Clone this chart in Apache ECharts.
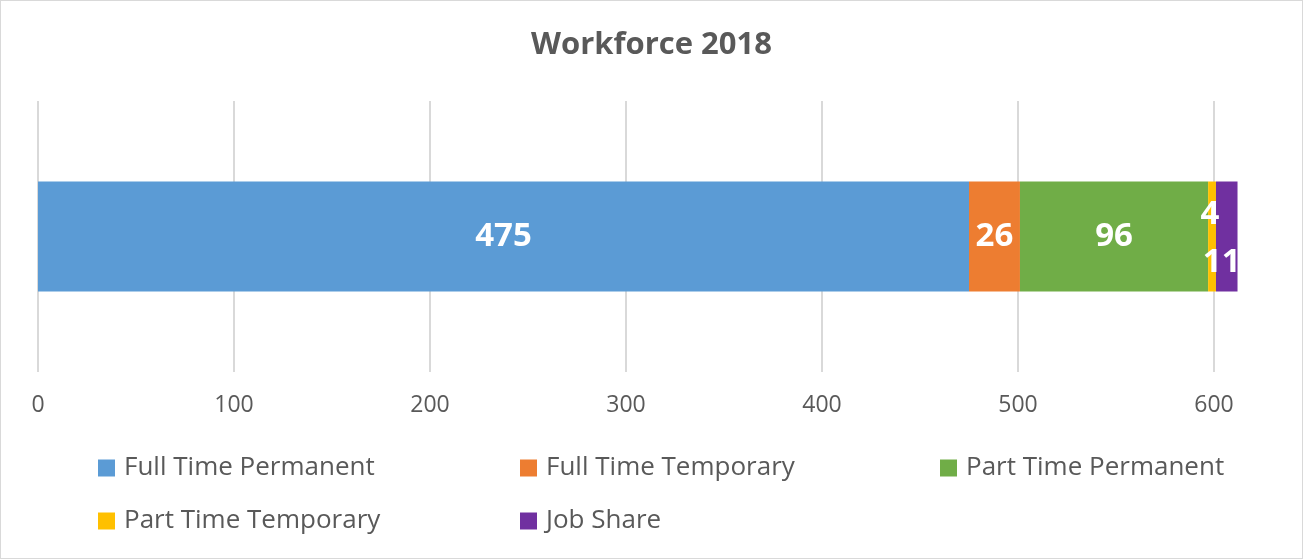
<!DOCTYPE html>
<html>
<head>
<meta charset="utf-8">
<script src="https://cdn.jsdelivr.net/npm/echarts@6/dist/echarts.min.js"></script>
<style>
  html, body { margin: 0; padding: 0; background: #fff; }
  #chart { width: 1301px; height: 557px; border: 1px solid #d9d9d9; }
</style>
</head>
<body>
<div id="chart"></div>
<script>
const categories = ['Workforce 2018']
const seriesNames = ['Full Time Permanent', 'Full Time Temporary', 'Part Time Permanent', 'Part Time Temporary', 'Job Share']
const seriesValues = [475, 26, 96, 4, 11]
const colors = ['#5B9BD5', '#ED7D31', '#70AD47', '#FFC000', '#7030A0']
const xTicks = [0, 100, 200, 300, 400, 500, 600]

// label nudges for the thin segments (Excel shifts them off each other)
const labelOffsets = [[0, 0], [0, 0], [0, 0], [-2, -22], [-5, 26]]
// legend slots: [left, top]
const legendSlots = [[92, 449], [514, 449], [934, 449], [92, 502], [514, 502]]

const font = '"Open Sans", "Liberation Sans", sans-serif'

const series = seriesNames.map((name, i) => ({
  name: name,
  type: 'bar',
  stack: 'total',
  barWidth: 110,
  clip: false,
  itemStyle: { color: colors[i] },
  label: {
    show: true,
    position: 'inside',
    offset: labelOffsets[i],
    color: '#fff',
    fontWeight: 'bold',
    fontSize: 33,
    fontFamily: font,
  },
  data: [seriesValues[i]],
}))

const legends = seriesNames.map((name, i) => ({
  data: [name],
  left: legendSlots[i][0],
  top: legendSlots[i][1],
  icon: 'rect',
  itemWidth: 17,
  itemHeight: 17,
  itemGap: 10,
  textStyle: { color: '#595959', fontSize: 26, fontFamily: font, padding: [0, 0, 0, 4] },
}))

const chart = echarts.init(document.getElementById('chart'))
chart.setOption({
  animation: false,
  title: {
    text: 'Workforce 2018',
    left: 'center',
    top: 24,
    textStyle: { color: '#595959', fontSize: 31, fontWeight: 'bold', fontFamily: font },
  },
  legend: legends,
  grid: { left: 37, right: 88, top: 100, bottom: 186 },
  xAxis: {
    type: 'value',
    min: xTicks[0],
    max: xTicks[xTicks.length - 1],
    interval: 100,
    axisLine: { show: false },
    axisTick: { show: false },
    axisLabel: { color: '#595959', fontSize: 23, fontFamily: font, margin: 22 },
    splitLine: { lineStyle: { color: '#d9d9d9', width: 2 } },
  },
  yAxis: {
    type: 'category',
    data: categories,
    axisLine: { show: false },
    axisTick: { show: false },
    axisLabel: { show: false },
  },
  series: series,
})
</script>
</body>
</html>
